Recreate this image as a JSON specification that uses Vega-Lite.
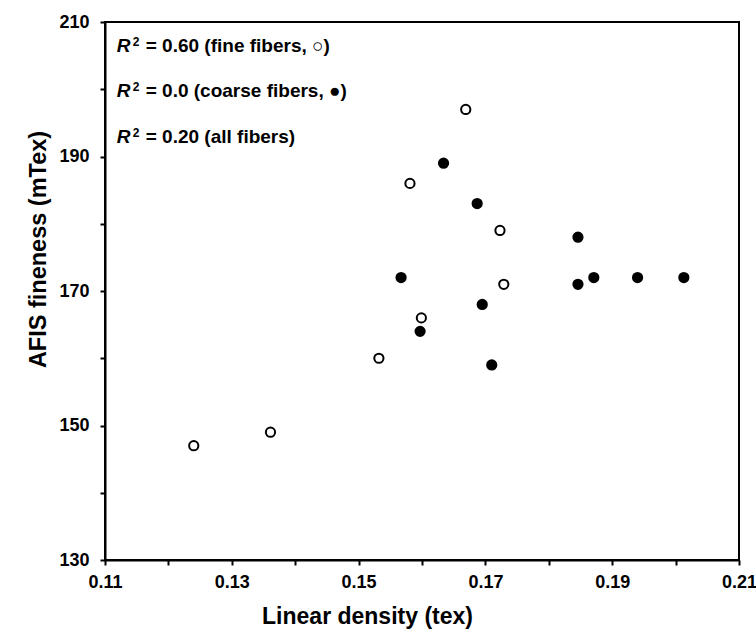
{
  "$schema": "https://vega.github.io/schema/vega-lite/v6.json",
  "autosize": "none",
  "width": 634,
  "height": 538,
  "padding": {"left": 105, "top": 22, "right": 17, "bottom": 70},
  "background": "white",
  "config": {
    "view": {"stroke": "black", "strokeWidth": 2},
    "font": "Liberation Sans"
  },
  "datasets": {
    "pts": [
      {"density": 0.1240, "fineness": 147, "group": "fine"},
      {"density": 0.1361, "fineness": 149, "group": "fine"},
      {"density": 0.1532, "fineness": 160, "group": "fine"},
      {"density": 0.1599, "fineness": 166, "group": "fine"},
      {"density": 0.1669, "fineness": 197, "group": "fine"},
      {"density": 0.1581, "fineness": 186, "group": "fine"},
      {"density": 0.1723, "fineness": 179, "group": "fine"},
      {"density": 0.1729, "fineness": 171, "group": "fine"},
      {"density": 0.1634, "fineness": 189, "group": "coarse"},
      {"density": 0.1687, "fineness": 183, "group": "coarse"},
      {"density": 0.1846, "fineness": 178, "group": "coarse"},
      {"density": 0.1567, "fineness": 172, "group": "coarse"},
      {"density": 0.1846, "fineness": 171, "group": "coarse"},
      {"density": 0.1871, "fineness": 172, "group": "coarse"},
      {"density": 0.1940, "fineness": 172, "group": "coarse"},
      {"density": 0.2013, "fineness": 172, "group": "coarse"},
      {"density": 0.1695, "fineness": 168, "group": "coarse"},
      {"density": 0.1597, "fineness": 164, "group": "coarse"},
      {"density": 0.1710, "fineness": 159, "group": "coarse"}
    ],
    "notes": [
      {"x": 0.11185, "y": 205.58, "r": "R", "sup": "2", "rest": "= 0.60 (fine fibers, ○)"},
      {"x": 0.11185, "y": 198.79, "r": "R", "sup": "2", "rest": "= 0.0 (coarse fibers, ●)"},
      {"x": 0.11185, "y": 191.95, "r": "R", "sup": "2", "rest": "= 0.20 (all fibers)"}
    ]
  },
  "layer": [
    {
      "data": {"name": "pts"},
      "mark": {"type": "point", "filled": true, "stroke": "black", "strokeWidth": 2, "size": 85, "opacity": 1},
      "encoding": {
        "x": {
          "field": "density", "type": "quantitative",
          "scale": {"domain": [0.11, 0.21], "nice": false, "zero": false},
          "axis": {
            "title": "Linear density (tex)",
            "values": [0.11, 0.12, 0.13, 0.14, 0.15, 0.16, 0.17, 0.18, 0.19, 0.2, 0.21],
            "labelExpr": "round(datum.value*100) % 2 == 1 ? format(datum.value, '.2f') : ''",
            "grid": false,
            "domainColor": "black", "domainWidth": 2,
            "tickColor": "black", "tickWidth": 2, "tickSize": 5,
            "labelFont": "Liberation Sans", "labelFontSize": 18, "labelFontWeight": "bold", "labelColor": "black",
            "labelPadding": 8, "labelFlush": false,
            "titleFont": "Liberation Sans", "titleFontSize": 23, "titleFontWeight": "bold", "titleColor": "black",
            "titleX": 262, "titleY": 63, "titleBaseline": "alphabetic", "titleAlign": "center"
          }
        },
        "y": {
          "field": "fineness", "type": "quantitative",
          "scale": {"domain": [130, 210], "nice": false, "zero": false},
          "axis": {
            "title": "AFIS fineness (mTex)",
            "values": [130, 140, 150, 160, 170, 180, 190, 200, 210],
            "labelExpr": "datum.value % 20 == 10 ? datum.label : ''",
            "grid": false,
            "domainColor": "black", "domainWidth": 2,
            "tickColor": "black", "tickWidth": 2, "tickSize": 5,
            "labelFont": "Liberation Sans", "labelFontSize": 18, "labelFontWeight": "bold", "labelColor": "black",
            "labelPadding": 11,
            "titleFont": "Liberation Sans", "titleFontSize": 23.5, "titleFontWeight": "bold", "titleColor": "black",
            "titleAngle": -90, "titleX": -60, "titleY": 227, "titleBaseline": "alphabetic", "titleAlign": "center"
          }
        },
        "fill": {
          "field": "group", "type": "nominal",
          "scale": {"domain": ["fine", "coarse"], "range": ["white", "black"]},
          "legend": null
        }
      }
    },
    {
      "data": {"name": "notes"},
      "mark": {"type": "text", "align": "left", "baseline": "alphabetic", "font": "Liberation Sans", "fontSize": 19, "fontWeight": "bold", "fontStyle": "italic", "color": "black"},
      "encoding": {
        "x": {"field": "x", "type": "quantitative"},
        "y": {"field": "y", "type": "quantitative"},
        "text": {"field": "r"}
      }
    },
    {
      "data": {"name": "notes"},
      "mark": {"type": "text", "align": "left", "baseline": "alphabetic", "dx": 16, "dy": -6, "font": "Liberation Sans", "fontSize": 12, "fontWeight": "bold", "color": "black"},
      "encoding": {
        "x": {"field": "x", "type": "quantitative"},
        "y": {"field": "y", "type": "quantitative"},
        "text": {"field": "sup"}
      }
    },
    {
      "data": {"name": "notes"},
      "mark": {"type": "text", "align": "left", "baseline": "alphabetic", "dx": 29, "font": "Liberation Sans", "fontSize": 19, "fontWeight": "bold", "color": "black"},
      "encoding": {
        "x": {"field": "x", "type": "quantitative"},
        "y": {"field": "y", "type": "quantitative"},
        "text": {"field": "rest"}
      }
    }
  ]
}
